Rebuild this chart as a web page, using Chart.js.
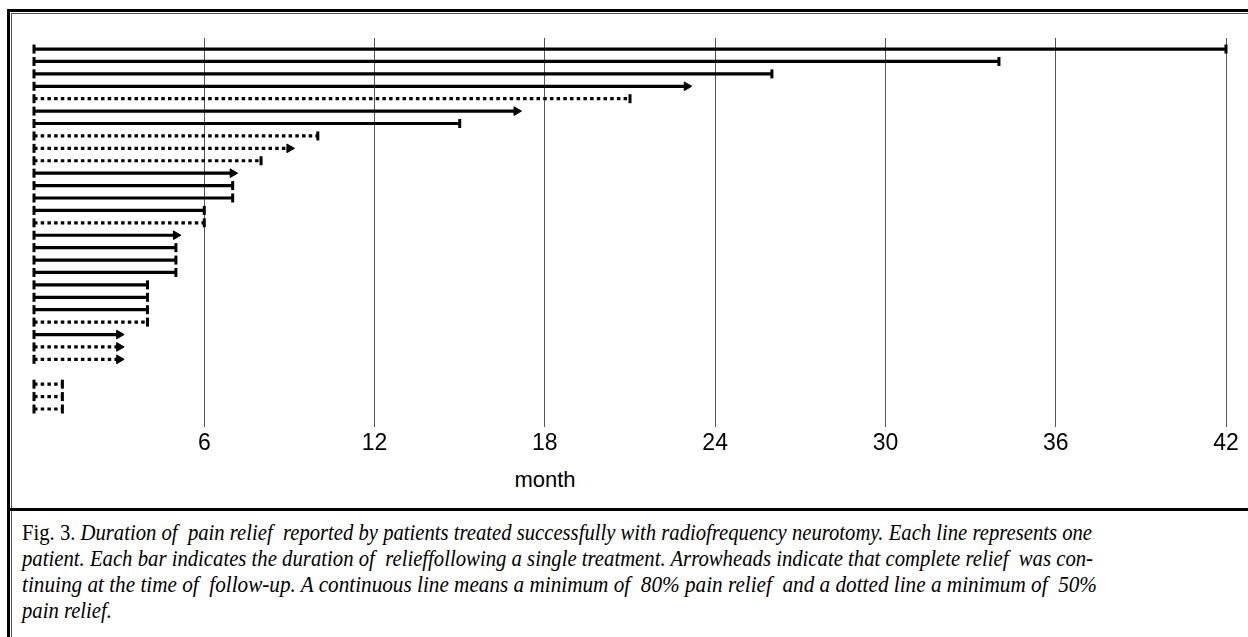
<!DOCTYPE html>
<html>
<head>
<meta charset="utf-8">
<script src="https://cdn.jsdelivr.net/npm/chart.js@4"></script>
<style>
  html, body { margin: 0; padding: 0; background: #fff; }
  body { width: 1248px; height: 637px; position: relative; overflow: hidden; }
  #frame { position: absolute; left: 7px; top: 9px; width: 1260px; height: 660px;
           border: 3px solid #000; box-sizing: border-box; }
  #inner { position: absolute; left: 1px; top: 1px; right: 1px; bottom: 1px;
           border: 1px solid #555; }
  #chartBox { position: absolute; left: 0; top: 0; }
  #xtitle { position: absolute; left: 545px; top: 467px; transform: translateX(-50%);
            font: 22px "Liberation Sans", Arial, sans-serif; color: #000; }
  #sep { position: absolute; left: 10px; top: 508px; width: 1250px; height: 3px; background: #000; }
  #caption { position: absolute; left: 22px; top: 520px; font: italic 23px "Liberation Serif", serif;
             color: #000; line-height: 26px; }
  #caption .ln { display: block; white-space: pre; transform-origin: 0 0; width: max-content; }
  #caption .up { font-style: normal; }
</style>
</head>
<body>
<div id="frame"><div id="inner"></div></div>
<div id="chartBox"><canvas id="c" width="1248" height="467"></canvas></div>
<div id="xtitle">month</div>
<div id="sep"></div>
<div id="caption"><span class="ln"><span class="up">Fig. 3.</span> Duration of  pain relief  reported by patients treated successfully with radiofrequency neurotomy. Each line represents one</span><span class="ln">patient. Each bar indicates the duration of  relieffollowing a single treatment. Arrowheads indicate that complete relief  was con-</span><span class="ln">tinuing at the time of  follow-up. A continuous line means a minimum of  80% pain relief  and a dotted line a minimum of  50%</span><span class="ln">pain relief.</span></div>
<script>
// one row per patient, top to bottom (row 27 is left empty)
const rows = [1, 2, 3, 4, 5, 6, 7, 8, 9, 10, 11, 12, 13, 14, 15, 16, 17, 18, 19, 20, 21, 22, 23, 24, 25, 26, 28, 29, 30];
const months = [42, 34, 26, 23, 21, 17, 15, 10, 9, 8, 7, 7, 7, 6, 6, 5, 5, 5, 5, 4, 4, 4, 4, 3, 3, 3, 1, 1, 1];
// 1 = dotted line (min. 50% relief), 0 = continuous (min. 80%)
const dotted = [0, 0, 0, 0, 1, 0, 0, 1, 1, 1, 0, 0, 0, 0, 1, 0, 0, 0, 0, 0, 0, 0, 1, 0, 1, 1, 1, 1, 1];
// 1 = arrowhead (relief continuing at follow-up)
const arrow = [0, 0, 0, 1, 0, 1, 0, 0, 1, 0, 1, 0, 0, 0, 0, 1, 0, 0, 0, 0, 0, 0, 0, 1, 1, 1, 0, 0, 0];
const xTicks = [6, 12, 18, 24, 30, 36, 42];

const datasets = months.map((m, i) => ({
  data: [{ x: 0, y: rows[i] }, { x: m, y: rows[i] }],
  borderColor: '#000',
  backgroundColor: '#000',
  borderWidth: 3.2,
  borderDash: dotted[i] ? [3.5, 3.2] : [],
  pointStyle: ['line', arrow[i] ? 'triangle' : 'line'],
  pointRotation: [90, 90],
  pointRadius: [4.5, arrow[i] ? 5 : 4.5],
  pointBorderWidth: [3, arrow[i] ? 1 : 3],
  pointBorderColor: '#000',
  pointBackgroundColor: '#000',
  pointHoverRadius: 0,
  clip: false
}));

new Chart(document.getElementById('c'), {
  type: 'line',
  data: { datasets },
  options: {
    responsive: false,
    animation: false,
    events: [],
    layout: { padding: { left: 34, right: 22, top: 38, bottom: 0 } },
    plugins: { legend: { display: false }, tooltip: { enabled: false } },
    scales: {
      x: {
        type: 'linear',
        min: 0,
        max: 42,
        afterBuildTicks: (s) => { s.ticks = xTicks.map(v => ({ value: v })); },
        afterFit: (s) => { s.height = 40; },
        border: { display: false },
        grid: { color: '#555', lineWidth: 1, drawTicks: false },
        ticks: { color: '#000', padding: 3, font: { family: 'Liberation Sans', size: 23 } }
      },
      y: {
        type: 'linear',
        display: false,
        reverse: true,
        min: 0.11,
        max: 31.45
      }
    }
  }
});

// fit the caption lines to the printed widths
const targets = [1070, 1071, 1075];
const lines = Array.from(document.querySelectorAll('#caption .ln'));
const widths = lines.map(el => el.getBoundingClientRect().width);
const k0 = targets[0] / widths[0];
lines.forEach((el, i) => {
  const k = i < 3 ? targets[i] / widths[i] : k0;
  el.style.transform = 'scaleX(' + k + ')';
});
</script>
</body>
</html>
